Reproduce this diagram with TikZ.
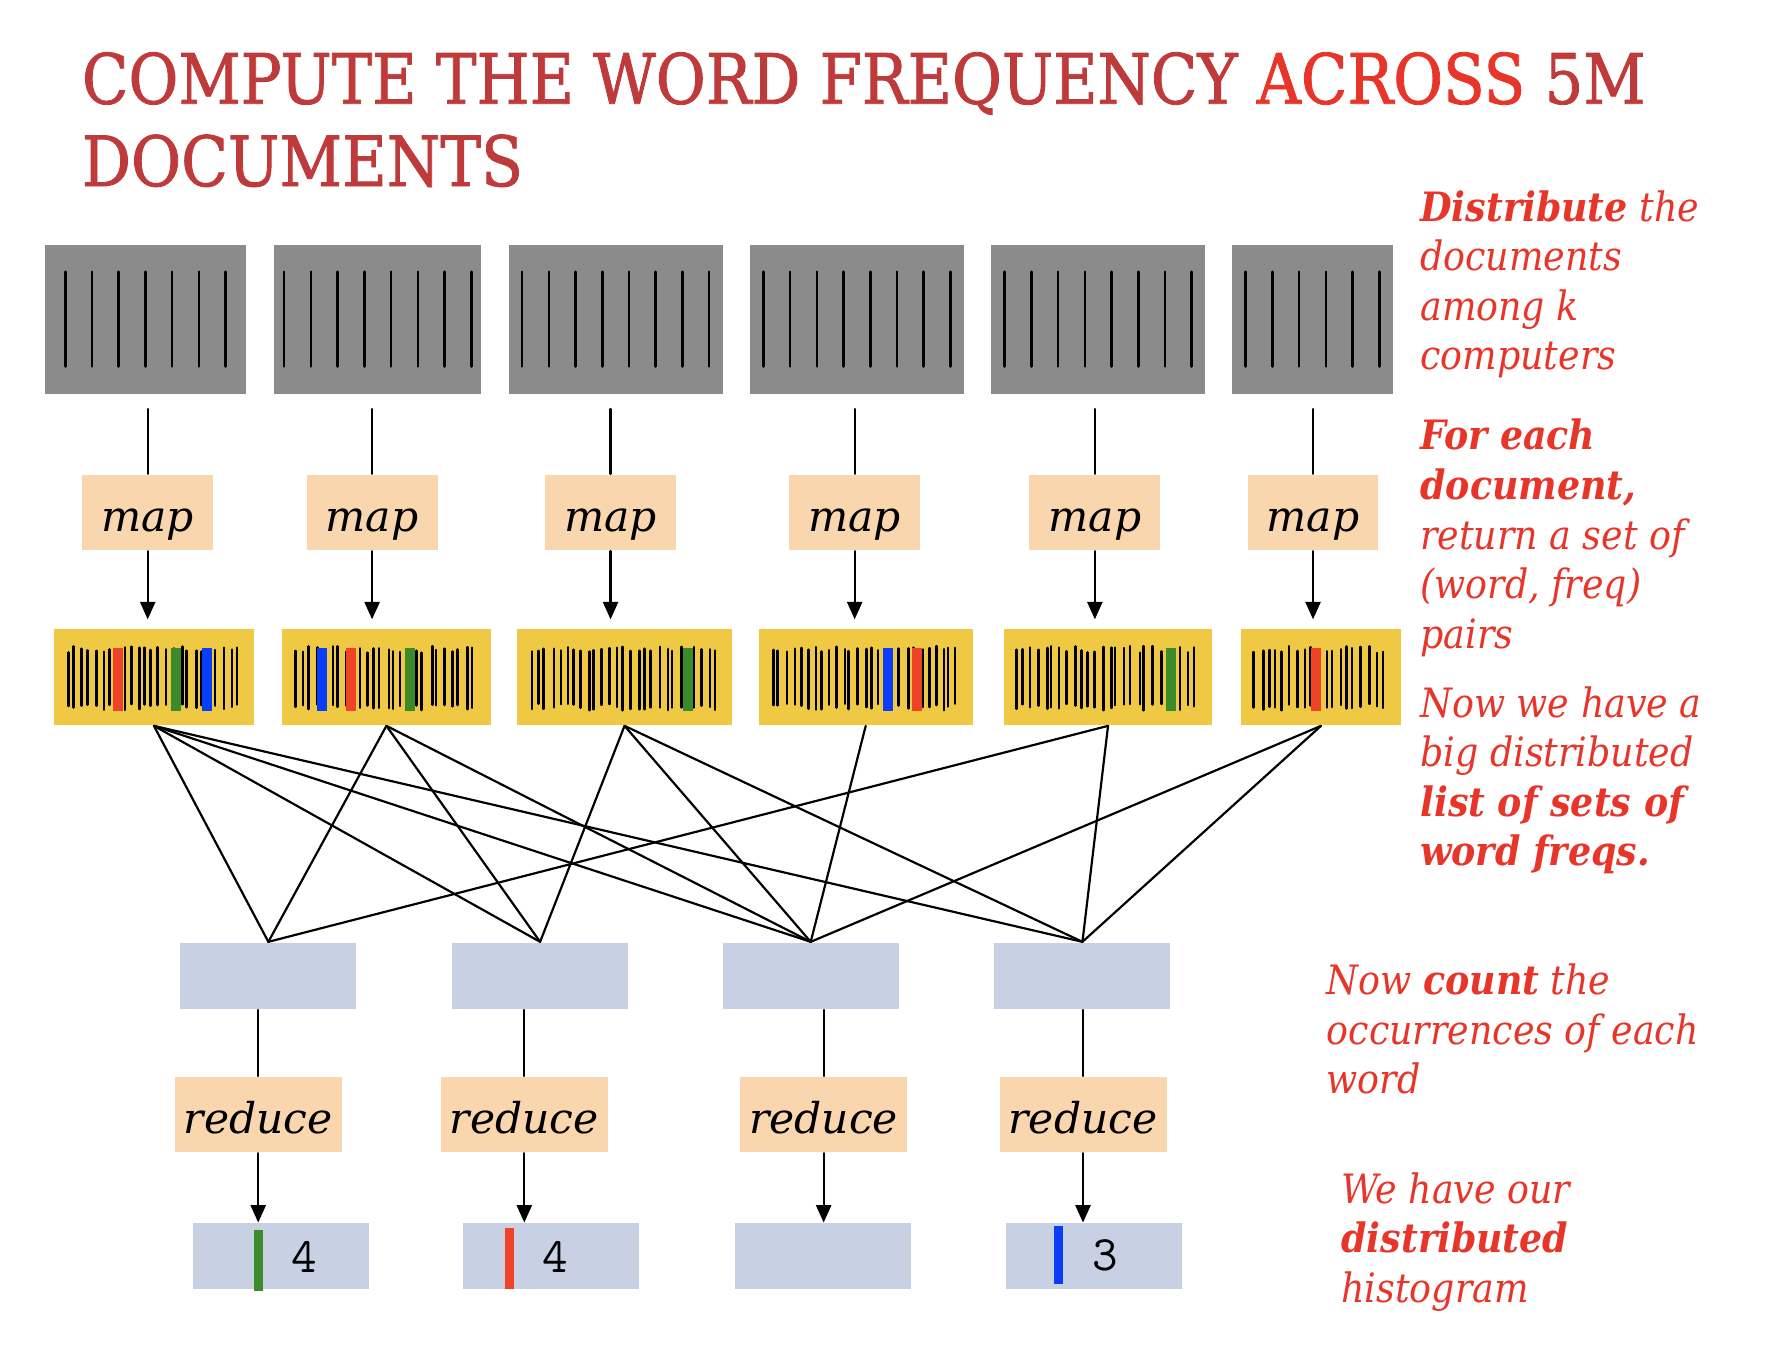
\documentclass[tikz,border=0pt]{standalone}
\usepackage{graphicx}
\usepackage{fontspec}
\usetikzlibrary{arrows.meta}
\setmainfont{DejaVu Serif}
\newfontfamily\slabfont{DejaVu Serif Condensed}
\newfontfamily\headfont{DejaVu Serif Condensed}[FakeBold=1.2]
\definecolor{docgray}{HTML}{8B8B8B}
\definecolor{barfill}{HTML}{F0C944}
\definecolor{peach}{HTML}{F9D6AE}
\definecolor{slate}{HTML}{C8D0E3}
\definecolor{titlered}{HTML}{BF3A3A}
\definecolor{notered}{HTML}{E8352A}
\definecolor{bargreen}{HTML}{3C8A2A}
\definecolor{barred}{HTML}{EE4326}
\definecolor{barblue}{HTML}{0A3DF7}

\begin{document}
\begin{tikzpicture}[x=0.01cm,y=-0.01cm,>={Triangle[length=4.4pt,width=3.8pt]},line join=round,line cap=round,
	every node/.style={inner sep=0pt},
	docbox/.style={fill=docgray,minimum height=1.32cm},
	wordbox/.style={fill=barfill,minimum height=0.85cm},
	stepbox/.style={fill=peach,minimum height=0.67cm,text height=0.33cm,text depth=0cm,font=\itshape\fontsize{10.7}{12}\selectfont},
	keybox/.style={fill=slate,minimum width=1.56cm,minimum height=0.59cm},
	count/.style={font=\ttfamily\fontsize{12.5}{14}\selectfont},
	note/.style={anchor=base west,text=notered,font=\slabfont\itshape\fontsize{10.2}{12.5}\selectfont},
	headline/.style={anchor=base west,text=titlered,font=\headfont\fontsize{17.5}{20}\selectfont},
	link/.style={line width=0.55pt}]
	\useasboundingbox (0,0) rectangle (1568,1208);
	\node[headline] (title1) at (72,92) {\resizebox{13.86cm}{\height}{COMPUTE THE WORD FREQUENCY \textcolor{notered}{ACROSS} 5M}};
	\node[headline] (title2) at (72,165) {\resizebox{3.91cm}{\height}{DOCUMENTS}};
	\foreach \n/\cx/\w/\k in {1/129/178/7,2/335/184/8,3/546/190/8,4/760/190/8,5/974/190/8,6/1164/142/6}{
		\node[docbox,minimum width=\w*0.01cm] (doc\n) at (\cx,283) {};
		\foreach \j in {1,...,\k}{
			\pgfmathsetmacro\lx{\cx+(\j-(\k+1)/2)*23.7}
			\draw[line width=0.65pt] (\lx,241) -- (\lx,325);
		}
	}
	\foreach \n/\cx in {1/131,2/330,3/541.5,4/758,5/971,6/1164.5}{
		\node[stepbox,minimum width=1.16cm] (map\n) at (\cx,454.5) {map};
		\draw[link,shorten >=0.13cm] (map\n.north) -- (map\n.north |- doc\n.south);
	}
	\pgfmathsetseed{11}
	\foreach \n/\cx/\w in {1/136.5/178,2/342.7/185,3/553.9/190,4/767.8/190,5/982.7/185,6/1171.6/142}{
		\node[wordbox,minimum width=\w*0.01cm] (freq\n) at (\cx,600.5) {};
		\draw[link,->,shorten >=0.08cm] (map\n.south) -- (map\n.south |- freq\n.north);
		\pgfmathtruncatemacro\m{(\w-24)/6.3}
		\foreach \j in {0,...,\m}{
			\pgfmathsetmacro\bx{\cx-\w/2+12+\j*6.3+rand*1.8}
			\pgfmathsetmacro\bt{573+rnd*6}
			\pgfmathsetmacro\bb{624+rnd*6}
			\draw[line width=0.65pt] (\bx,\bt) -- (\bx,\bb);
		}
	}
	\foreach \x/\c in {104.4/barred,156/bargreen,183.5/barblue,285.5/barblue,311.5/barred,363.5/bargreen,
		609.8/bargreen,787.8/barblue,813.2/barred,1038.2/bargreen,1167.5/barred}
		\fill[\c] ({\x-4.5},575) rectangle ({\x+4.5},631);
	\foreach \n/\cx in {1/238,2/479,3/719,4/960}
		\node[keybox] (key\n) at (\cx,865.5) {};
	\foreach \a/\b in {1/1,1/2,1/3,1/4,2/1,2/2,2/3,3/2,3/3,3/4,4/3,5/1,5/4,6/3,6/4}
		\draw[link] (freq\a.south) -- (key\b.north);
	\foreach \n/\cx/\hx in {1/229/249,2/465/489,3/730.5/730,4/960.5/970}{
		\node[stepbox,minimum width=1.48cm] (red\n) at (\cx,988.5) {reduce};
		\draw[link] (red\n.north) -- (red\n.north |- key\n.south);
		\node[keybox,minimum height=0.58cm] (hist\n) at (\hx,1114) {};
		\draw[link,->] (red\n.south) -- (red\n.south |- hist\n.north);
	}
	\fill[bargreen] (225,1091) rectangle (233,1145);
	\fill[barred] (447.5,1089) rectangle (456,1143);
	\fill[barblue] (935,1087) rectangle (943,1139);
	\node[count] (cnt1) at (269.5,1115) {4};
	\node[count] (cnt2) at (492.5,1115) {4};
	\node[count] (cnt4) at (980,1113) {3};
	\node[note] (distnote) at (1259,196) {\begin{tabular}[t]{@{}l@{}}\textbf{Distribute} the\\documents\\among k\\computers\end{tabular}};
	\node[note] (mapnote) at (1259,399) {\begin{tabular}[t]{@{}l@{}}\textbf{For each}\\\textbf{document,}\\return a set of\\(word, freq)\\pairs\end{tabular}};
	\node[note] (listnote) at (1259,636) {\begin{tabular}[t]{@{}l@{}}Now we have a\\big distributed\\\textbf{list of sets of}\\\textbf{word freqs.}\end{tabular}};
	\node[note] (countnote) at (1176,882) {\begin{tabular}[t]{@{}l@{}}Now \textbf{count} the\\occurrences of each\\word\end{tabular}};
	\node[note] (histnote) at (1189,1067) {\begin{tabular}[t]{@{}l@{}}We have our\\\textbf{distributed}\\histogram\end{tabular}};
\end{tikzpicture}
\end{document}
